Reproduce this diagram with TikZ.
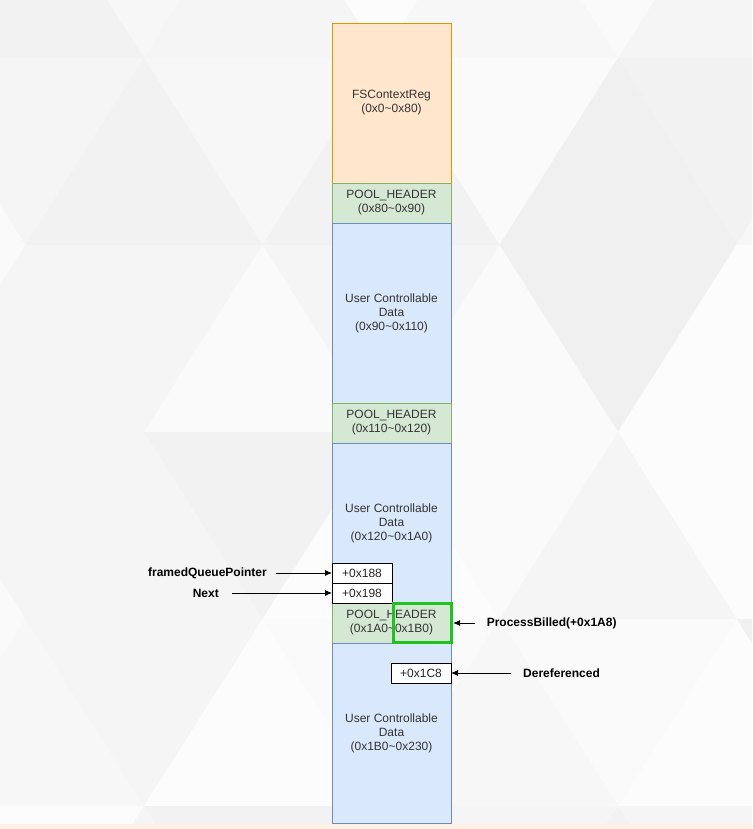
\documentclass[tikz,border=0pt]{standalone}
\usepackage{fontspec}
\setmainfont{Liberation Sans}
\usetikzlibrary{positioning}
\usetikzlibrary{arrows.meta}
\definecolor{ctxfill}{HTML}{FFE6CC}
\definecolor{ctxline}{HTML}{D79B00}
\definecolor{hdrfill}{HTML}{D5E8D4}
\definecolor{hdrline}{HTML}{82B366}
\definecolor{datafill}{HTML}{DAE8FC}
\definecolor{dataline}{HTML}{6C8EBF}
\definecolor{hiline}{HTML}{1EC41E}
\tikzset{
	block/.style={draw, rectangle, inner sep=2pt, outer sep=0pt, line width=0.8pt, minimum width=119pt, align=center, text=black!80, font=\fontsize{12}{14}\selectfont},
	ctx/.style={block, minimum height=160pt, fill=ctxfill, draw=ctxline},
	header/.style={block, minimum height=40pt, fill=hdrfill, draw=hdrline},
	udata/.style={block, minimum height=180pt, fill=datafill, draw=dataline},
	offbox/.style={draw, rectangle, line width=0.8pt, fill=white, minimum width=60pt, minimum height=20pt, inner sep=0pt, outer sep=0pt, text=black!85, font=\fontsize{12}{14}\selectfont},
	hibox/.style={draw=hiline, rectangle, line width=3pt, minimum width=58pt, minimum height=39pt, inner sep=0pt, outer sep=0pt},
	% pointer names left and right of the column
	ptrname/.style={inner sep=0pt, font=\bfseries\fontsize{12}{14}\selectfont},
}

\begin{document}
\begin{tikzpicture}[x=1pt, y=-1pt]
	\useasboundingbox (0,0) rectangle (752,829);
	
	% triangle pattern in the back
	\begin{scope}
		\clip (0,0) rectangle (752,829);
		\fill[black!3] (0,0) rectangle (752,829);
		\pgfmathsetseed{11}
		\foreach \k in {0,...,5}{
			\pgfmathsetmacro\yt{-129+187*\k}
			\pgfmathsetmacro\off{isodd(\k) ? 144 : 25.5}
			\foreach \i in {-1,...,3}{
				\pgfmathsetmacro\sa{int(1+rnd*6)}
				\pgfmathsetmacro\sb{int(1+rnd*6)}
				\fill[black!\sa] (\off+237*\i,\yt) -- (\off+237*\i+237,\yt) -- (\off+237*\i+118.5,\yt+187) -- cycle;
				\fill[black!\sb] (\off+237*\i,\yt) -- (\off+237*\i-118.5,\yt+187) -- (\off+237*\i+118.5,\yt+187) -- cycle;
			}
		}
		\fill[black!8!orange!10] (0,824) rectangle (752,829);
	\end{scope}
	
	\node (ctx) [ctx, anchor=north] at (391.5,23) {FSContextReg\\(0x0\textasciitilde0x80)};
	\node (ph1) [header, below=0pt of ctx] {POOL\_HEADER\\(0x80\textasciitilde0x90)};
	\node (ud1) [udata, below=0pt of ph1] {User Controllable\\Data\\(0x90\textasciitilde0x110)};
	\node (ph2) [header, below=0pt of ud1] {POOL\_HEADER\\(0x110\textasciitilde0x120)};
	\node (ud2) [udata, minimum height=160pt, below=0pt of ph2] {User Controllable\\Data\\(0x120\textasciitilde0x1A0)};
	\node (ph3) [header, below=0pt of ud2] {POOL\_HEADER\\(0x1A0\textasciitilde0x1B0)};
	\node (ud3) [udata, below=0pt of ph3] {User Controllable\\Data\\(0x1B0\textasciitilde0x230)};
	
	\node (o198) [offbox, anchor=south west] at (ph3.north west) {+0x198};
	\node (o188) [offbox, above=0pt of o198] {+0x188};
	\node (pb) [hibox, anchor=north east] at ([xshift=0.6pt, yshift=-0.5pt]ph3.north east) {};
	\node (o1c8) [offbox, anchor=north east] at ([yshift=-20pt]ph3.south east) {+0x1C8};
	
	\node (fqp) [ptrname, left=65pt of o188] {framedQueuePointer};
	\node (nxt) [ptrname, left=113pt of o198] {Next};
	\node (pbl) [ptrname, right=35pt of pb] {ProcessBilled(+0x1A8)};
	\node (drf) [ptrname, right=72pt of o1c8] {Dereferenced};
	
	\begin{scope}[line width=0.8pt, black, ->, >={Latex[length=7pt, width=6pt]}]
		\draw [shorten <=9pt] (fqp.east) -- (o188.west);
		\draw [shorten <=13pt] (nxt.east) -- (o198.west);
		\draw [shorten <=12pt] (pbl.west) -- ([xshift=1.5pt]pb.east);
		\draw [shorten <=12pt] (drf.west) -- (o1c8.east);
	\end{scope}
\end{tikzpicture}
\end{document}
